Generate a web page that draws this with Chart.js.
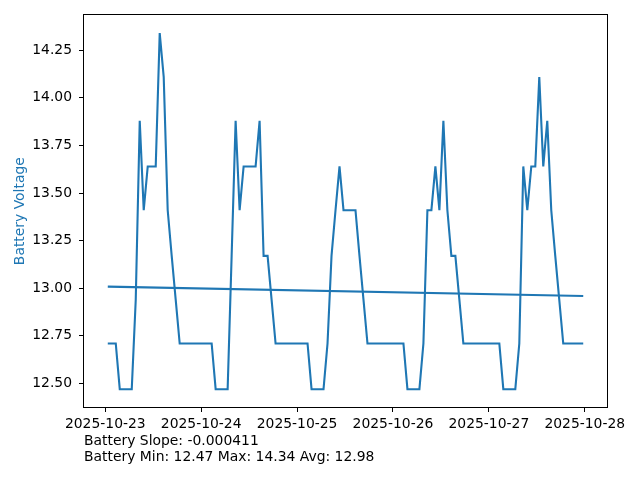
<!DOCTYPE html>
<html>
<head>
<meta charset="utf-8">
<title>Battery Voltage</title>
<script src="https://cdn.jsdelivr.net/npm/chart.js@4"></script>
<style>
  html, body { margin: 0; padding: 0; background: #fff; }
  canvas { display: block; }
</style>
</head>
<body>
<canvas id="battery" width="640" height="480"></canvas>
<script>
// hourly readings, first one at 2025-10-23 00:37 (hours since midnight)
const firstReadingHour = 0.62;
const voltages = [
  12.71, 12.71, 12.71, 12.47, 12.47, 12.47, 12.47, 12.94, 13.88, 13.41, 13.64, 13.64,
  13.64, 14.34, 14.11, 13.41, 13.17, 12.94, 12.71, 12.71, 12.71, 12.71, 12.71, 12.71,
  12.71, 12.71, 12.71, 12.47, 12.47, 12.47, 12.47, 13.17, 13.88, 13.41, 13.64, 13.64,
  13.64, 13.64, 13.88, 13.17, 13.17, 12.94, 12.71, 12.71, 12.71, 12.71, 12.71, 12.71,
  12.71, 12.71, 12.71, 12.47, 12.47, 12.47, 12.47, 12.71, 13.17, 13.41, 13.64, 13.41,
  13.41, 13.41, 13.41, 13.17, 12.94, 12.71, 12.71, 12.71, 12.71, 12.71, 12.71, 12.71,
  12.71, 12.71, 12.71, 12.47, 12.47, 12.47, 12.47, 12.71, 13.41, 13.41, 13.64, 13.41,
  13.88, 13.41, 13.17, 13.17, 12.94, 12.71, 12.71, 12.71, 12.71, 12.71, 12.71, 12.71,
  12.71, 12.71, 12.71, 12.47, 12.47, 12.47, 12.47, 12.71, 13.64, 13.41, 13.64, 13.64,
  14.11, 13.64, 13.88, 13.41, 13.17, 12.94, 12.71, 12.71, 12.71, 12.71, 12.71, 12.71
];
const xTickHours = [0, 24, 48, 72, 96, 120];
const xTickLabels = ["2025-10-23", "2025-10-24", "2025-10-25", "2025-10-26", "2025-10-27", "2025-10-28"];
const yTicks = [12.5, 12.75, 13.0, 13.25, 13.5, 13.75, 14.0, 14.25];
const summaryLines = [
  "Battery Slope: -0.000411",
  "Battery Min: 12.47 Max: 14.34 Avg: 12.98"
];

const blue = "#1f77b4";
const fontFamily = "'DejaVu Sans', sans-serif";
const fontSize = 13.9;

const points = voltages.map((v, i) => ({ x: firstReadingHour + i, y: v }));

// least squares trend over the readings
const n = points.length;
const mx = points.reduce((s, p) => s + p.x, 0) / n;
const my = points.reduce((s, p) => s + p.y, 0) / n;
let sxy = 0, sxx = 0;
points.forEach(p => { sxy += (p.x - mx) * (p.y - my); sxx += (p.x - mx) * (p.x - mx); });
const slope = sxy / sxx;
const xFirst = points[0].x, xLast = points[n - 1].x;
const trend = [
  { x: xFirst, y: my + slope * (xFirst - mx) },
  { x: xLast, y: my + slope * (xLast - mx) }
];

// matplotlib style 5% margins
const xSpan = xLast - xFirst;
const vMin = Math.min(...voltages), vMax = Math.max(...voltages);
const ySpan = vMax - vMin;

Chart.defaults.color = "#000";
Chart.defaults.font.family = fontFamily;
Chart.defaults.font.size = fontSize;

const framePlugin = {
  id: "frame",
  afterDraw(chart) {
    const { ctx, chartArea: a } = chart;
    ctx.save();
    ctx.strokeStyle = "#000";
    ctx.lineWidth = 1;
    ctx.strokeRect(Math.round(a.left) - 0.5, Math.round(a.top) - 0.5,
      Math.round(a.right - a.left) + 1, Math.round(a.bottom - a.top) + 1);
    ctx.fillStyle = "#000";
    ctx.font = fontSize + "px " + fontFamily;
    ctx.textBaseline = "middle";
    ctx.textAlign = "left";
    summaryLines.forEach((t, i) => ctx.fillText(t, 84, 441.7 + i * 15.6));
    ctx.restore();
  }
};

new Chart(document.getElementById("battery"), {
  type: "line",
  data: {
    datasets: [
      {
        label: "Battery Voltage",
        data: points,
        borderColor: blue,
        borderWidth: 2.1,
        pointRadius: 0,
        tension: 0,
        fill: false,
      },
      {
        label: "Trend",
        data: trend,
        borderColor: blue,
        borderWidth: 2.1,
        pointRadius: 0,
        fill: false,
      },
    ],
  },
  options: {
    responsive: false,
    animation: false,
    devicePixelRatio: 1,
    layout: {
      padding: { top: 15, right: 33, left: 0, bottom: 0 },
    },
    plugins: {
      legend: { display: false },
      tooltip: { enabled: false },
    },
    scales: {
      x: {
        type: "linear",
        min: xFirst - 0.05 * xSpan,
        max: xLast + 0.05 * xSpan,
        afterBuildTicks: (scale) => {
          scale.ticks = xTickHours.map(v => ({ value: v }));
        },
        afterFit: (scale) => { scale.height = 73; },
        ticks: {
          autoSkip: false,
          maxRotation: 0,
          padding: 4,
          color: "#000",
          callback: (value) => xTickLabels[xTickHours.indexOf(value)],
        },
        grid: {
          drawOnChartArea: false,
          drawTicks: true,
          tickLength: 5,
          color: "#000",
          lineWidth: 1,
        },
        border: { display: false },
      },
      y: {
        min: vMin - 0.05 * ySpan,
        max: vMax + 0.05 * ySpan,
        afterBuildTicks: (scale) => {
          scale.ticks = yTicks.map(v => ({ value: v }));
        },
        afterFit: (scale) => { scale.width = 84; },
        ticks: {
          padding: 7,
          color: "#000",
          callback: (value) => value.toFixed(2),
        },
        grid: {
          drawOnChartArea: false,
          drawTicks: true,
          tickLength: 5,
          color: "#000",
          lineWidth: 1,
        },
        border: { display: false },
        title: {
          display: true,
          text: "Battery Voltage",
          color: blue,
          padding: { top: 12.5, bottom: 0 },
        },
      },
    },
  },
  plugins: [framePlugin],
});
</script>
</body>
</html>
